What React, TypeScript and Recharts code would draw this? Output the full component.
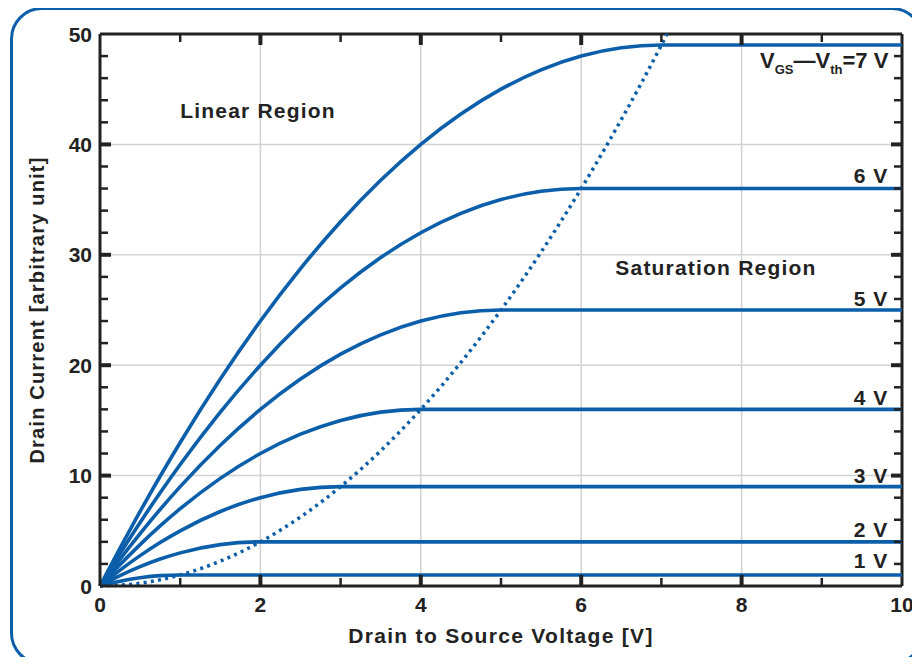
import React from "react";
import { LineChart, Line, XAxis, YAxis, CartesianGrid, ReferenceDot, ReferenceLine } from "recharts";

// drain-source voltage samples [V]
const vds = [0, 0.25, 0.5, 0.75, 1, 1.5, 2, 2.5, 3, 3.5, 4, 4.5, 5, 5.5, 6, 6.5, 7, 10];

// drain current per overdrive voltage
const id1V = [0, 0.44, 0.75, 0.94, 1, 1, 1, 1, 1, 1, 1, 1, 1, 1, 1, 1, 1, 1];
const id2V = [0, 0.94, 1.75, 2.44, 3, 3.75, 4, 4, 4, 4, 4, 4, 4, 4, 4, 4, 4, 4];
const id3V = [0, 1.44, 2.75, 3.94, 5, 6.75, 8, 8.75, 9, 9, 9, 9, 9, 9, 9, 9, 9, 9];
const id4V = [0, 1.94, 3.75, 5.44, 7, 9.75, 12, 13.75, 15, 15.75, 16, 16, 16, 16, 16, 16, 16, 16];
const id5V = [0, 2.44, 4.75, 6.94, 9, 12.75, 16, 18.75, 21, 22.75, 24, 24.75, 25, 25, 25, 25, 25, 25];
const id6V = [0, 2.94, 5.75, 8.44, 11, 15.75, 20, 23.75, 27, 29.75, 32, 33.75, 35, 35.75, 36, 36, 36, 36];
const id7V = [0, 3.44, 6.75, 9.94, 13, 18.75, 24, 28.75, 33, 36.75, 40, 42.75, 45, 46.75, 48, 48.75, 49, 49];

// boundary between linear and saturation region (dotted)
const edgeVds = [0, 0.5, 1, 1.5, 2, 2.5, 3, 3.5, 4, 4.5, 5, 5.5, 6, 6.5, 7, 7.07];
const edgeId = [0, 0.25, 1, 2.25, 4, 6.25, 9, 12.25, 16, 20.25, 25, 30.25, 36, 42.25, 49, 50];

const xTicks = [0, 1, 2, 3, 4, 5, 6, 7, 8, 9, 10];
const yTicks = [0, 2, 4, 6, 8, 10, 12, 14, 16, 18, 20, 22, 24, 26, 28, 30, 32, 34, 36, 38, 40, 42, 44, 46, 48, 50];
const xGrid = [2, 4, 6, 8];
const yGrid = [10, 20, 30, 40];

const curveLabels = ["6 V", "5 V", "4 V", "3 V", "2 V", "1 V"];
const curveLabelY = [36.5, 25.4, 16.4, 9.3, 4.4, 1.6];

const rows = vds.map((v, i) => ({
  vds: v,
  c1: id1V[i],
  c2: id2V[i],
  c3: id3V[i],
  c4: id4V[i],
  c5: id5V[i],
  c6: id6V[i],
  c7: id7V[i],
}));
const edgeRows = edgeVds.map((v, i) => ({ vds: v, id: edgeId[i] }));

const BLUE = "#0b5ea9";
const INK = "#222";
const FONT = "'Liberation Sans', Arial, Helvetica, sans-serif";

// layout
const W = 920;
const H = 665;
const M = { top: 34, right: 18, left: 30, bottom: 19 };
const Y_AXIS_W = 70;
const X_AXIS_H = 60;
const PLOT_W = W - M.left - M.right - Y_AXIS_W;
const PLOT_H = H - M.top - M.bottom - X_AXIS_H;
const X_MARGIN = 11;
const Y_MARGIN = 8;

const XTick = (p: any) => {
  const v = p.payload.value;
  const x = p.x;
  const base = p.y - X_MARGIN;
  const top = base - PLOT_H;
  const major = v % 2 === 0;
  const len = major ? 11 : 8;
  const sw = major ? 4 : 2.5;
  const inner = v !== 0 && v !== 10;
  return (
    <g>
      {inner && <line x1={x} x2={x} y1={base} y2={base - len} stroke={INK} strokeWidth={sw} />}
      {inner && <line x1={x} x2={x} y1={top} y2={top + len} stroke={INK} strokeWidth={sw} />}
      {major && (
        <text x={x} y={p.y} dy="0.71em" textAnchor="middle" fill={INK} fontSize={21} fontWeight={700} fontFamily={FONT}>
          {v}
        </text>
      )}
    </g>
  );
};

const YTick = (p: any) => {
  const v = p.payload.value;
  const y = p.y;
  const base = p.x + Y_MARGIN;
  const right = base + PLOT_W;
  const major = v % 10 === 0;
  const len = major ? 11 : 8;
  const sw = major ? 4 : 2.5;
  const inner = v !== 0 && v !== 50;
  return (
    <g>
      {inner && <line x1={base} x2={base + len} y1={y} y2={y} stroke={INK} strokeWidth={sw} />}
      {inner && <line x1={right - len} x2={right} y1={y} y2={y} stroke={INK} strokeWidth={sw} />}
      {major && (
        <text x={p.x} y={y} dy="0.36em" textAnchor="end" fill={INK} fontSize={21} fontWeight={700} fontFamily={FONT}>
          {v}
        </text>
      )}
    </g>
  );
};

const textAt = (text: string, anchor: string, size: number, spacing: number) => (p: any) => (
  <text
    x={p.cx}
    y={p.cy}
    textAnchor={anchor}
    fill={INK}
    fontSize={size}
    fontWeight={700}
    fontFamily={FONT}
    letterSpacing={spacing}
  >
    {text}
  </text>
);

const TopLabel = (p: any) => (
  <text x={p.cx} y={p.cy} textAnchor="end" fill={INK} fontSize={22} fontWeight={700} fontFamily={FONT}>
    <tspan>V</tspan>
    <tspan fontSize={13} dy={6}>GS</tspan>
    <tspan dy={-6}>—V</tspan>
    <tspan fontSize={13} dy={6}>th</tspan>
    <tspan dy={-6}>=7 V</tspan>
  </text>
);

const XTitle = (p: any) => {
  const vb = p.viewBox;
  return (
    <text x={vb.x + vb.width / 2} y={vb.y + 57} textAnchor="middle" fill={INK} fontSize={21} fontWeight={700} fontFamily={FONT} letterSpacing={1.3}>
      Drain to Source Voltage [V]
    </text>
  );
};

const YTitle = (p: any) => {
  const vb = p.viewBox;
  const cx = vb.x + 14;
  const cy = vb.y + vb.height / 2;
  return (
    <text x={cx} y={cy} transform={`rotate(-90, ${cx}, ${cy})`} textAnchor="middle" fill={INK} fontSize={20} fontWeight={700} fontFamily={FONT} letterSpacing={1.2}>
      Drain Current [arbitrary unit]
    </text>
  );
};

const curves = ["c1", "c2", "c3", "c4", "c5", "c6", "c7"];

export default function App() {
  return (
    <div style={{ position: "relative", width: W, height: H, margin: -8, overflow: "hidden", background: "#fff" }}>
      <div
        style={{
          position: "absolute",
          left: 10,
          top: 7,
          width: 908,
          height: 652,
          border: `3px solid ${BLUE}`,
          borderRadius: 32,
        }}
      />
      <div style={{ position: "absolute", left: 0, top: 0 }}>
        <LineChart width={W} height={H} margin={M}>
          <CartesianGrid stroke="#d2d2d2" strokeWidth={1.5} verticalValues={xGrid} horizontalValues={yGrid} />
          <XAxis
            dataKey="vds"
            type="number"
            domain={[0, 10]}
            ticks={xTicks}
            interval={0}
            height={X_AXIS_H}
            tickLine={false}
            tickSize={0}
            tickMargin={X_MARGIN}
            axisLine={{ stroke: INK, strokeWidth: 3 }}
            tick={<XTick />}
            label={<XTitle />}
          />
          <YAxis
            type="number"
            domain={[0, 50]}
            ticks={yTicks}
            interval={0}
            width={Y_AXIS_W}
            tickLine={false}
            tickSize={0}
            tickMargin={Y_MARGIN}
            axisLine={{ stroke: INK, strokeWidth: 3 }}
            tick={<YTick />}
            label={<YTitle />}
          />
          <ReferenceLine y={50} stroke={INK} strokeWidth={3} />
          <ReferenceLine x={10} stroke={INK} strokeWidth={3} />

          {curves.map((k) => (
            <Line
              key={k}
              data={rows}
              dataKey={k}
              type="monotone"
              stroke={BLUE}
              strokeWidth={3.6}
              dot={false}
              activeDot={false}
              isAnimationActive={false}
            />
          ))}
          <Line
            data={edgeRows}
            dataKey="id"
            type="monotone"
            stroke={BLUE}
            strokeWidth={3.5}
            strokeDasharray="3 4.3"
            dot={false}
            activeDot={false}
            isAnimationActive={false}
          />

          <ReferenceDot x={1.97} y={42.4} r={0} shape={textAt("Linear Region", "middle", 21, 1.2)} />
          <ReferenceDot x={7.68} y={28.2} r={0} shape={textAt("Saturation Region", "middle", 21, 1.2)} />
          <ReferenceDot x={9.83} y={46.9} r={0} shape={TopLabel} />
          {curveLabels.map((t, i) => (
            <ReferenceDot key={t} x={9.83} y={curveLabelY[i]} r={0} shape={textAt(t, "end", 21, 1)} />
          ))}
        </LineChart>
      </div>
    </div>
  );
}
